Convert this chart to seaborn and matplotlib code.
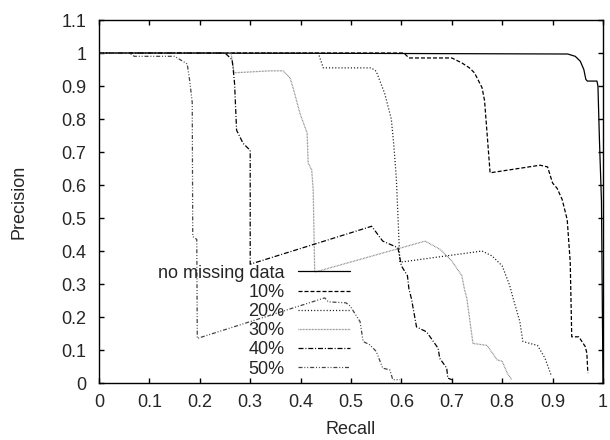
import matplotlib
matplotlib.use("Agg")
import matplotlib.pyplot as plt
import pandas as pd
import seaborn as sns
from matplotlib.ticker import FuncFormatter, MultipleLocator

# precision / recall curves
SERIES = ["no missing data", "10%", "20%", "30%", "40%", "50%"]

recall_0 = [0, 0.5, 0.93, 0.945, 0.955, 0.962, 0.966, 0.969, 0.988, 0.99, 0.993, 0.997, 1.0]
precision_0 = [1, 0.999, 0.997, 0.99, 0.975, 0.95, 0.92, 0.915, 0.915, 0.9, 0.735, 0.55, 0.0]

recall_10 = [0, 0.605, 0.615, 0.70, 0.72, 0.735, 0.745, 0.76, 0.765, 0.776, 0.875, 0.89,
             0.90, 0.909, 0.919, 0.929, 0.935, 0.938, 0.952, 0.965, 0.968, 0.97]
precision_10 = [1, 1, 0.985, 0.985, 0.97, 0.955, 0.94, 0.895, 0.856, 0.637, 0.66, 0.655,
                0.606, 0.59, 0.556, 0.495, 0.366, 0.14, 0.14, 0.11, 0.09, 0.03]

recall_20 = [0, 0.435, 0.445, 0.54, 0.55, 0.567, 0.58, 0.585, 0.59, 0.597, 0.76, 0.78,
             0.80, 0.815, 0.822, 0.835, 0.841, 0.855, 0.87, 0.885, 0.898]
precision_20 = [1, 1, 0.955, 0.955, 0.945, 0.877, 0.80, 0.72, 0.62, 0.366, 0.40, 0.385,
                0.355, 0.295, 0.255, 0.186, 0.126, 0.12, 0.114, 0.075, 0.02]

recall_30 = [0, 0.262, 0.268, 0.339, 0.365, 0.379, 0.385, 0.399, 0.413, 0.415, 0.422, 0.425,
             0.428, 0.647, 0.677, 0.70, 0.72, 0.725, 0.73, 0.742, 0.77, 0.79, 0.80, 0.81, 0.819]
precision_30 = [1, 1, 0.94, 0.946, 0.946, 0.925, 0.895, 0.816, 0.757, 0.667, 0.646, 0.586,
                0.336, 0.43, 0.405, 0.37, 0.325, 0.285, 0.255, 0.12, 0.114, 0.07, 0.066, 0.03, 0.01]

recall_40 = [0, 0.25, 0.264, 0.266, 0.269, 0.273, 0.286, 0.30, 0.30, 0.541, 0.563, 0.593,
             0.60, 0.612, 0.615, 0.62, 0.63, 0.65, 0.673, 0.676, 0.69, 0.692, 0.70]
precision_40 = [1, 1, 0.98, 0.955, 0.907, 0.766, 0.726, 0.705, 0.36, 0.475, 0.43, 0.41,
                0.355, 0.325, 0.285, 0.255, 0.17, 0.155, 0.105, 0.075, 0.045, 0.015, 0.01]

recall_50 = [0, 0.06, 0.07, 0.15, 0.175, 0.18, 0.185, 0.186, 0.194, 0.195, 0.448, 0.455,
             0.49, 0.498, 0.518, 0.524, 0.537, 0.55, 0.563, 0.577, 0.583, 0.597]
precision_50 = [1, 1, 0.99, 0.99, 0.967, 0.916, 0.85, 0.444, 0.435, 0.135, 0.258, 0.246,
                0.243, 0.234, 0.186, 0.126, 0.116, 0.096, 0.045, 0.04, 0.01, 0.01]

recalls = [recall_0, recall_10, recall_20, recall_30, recall_40, recall_50]
precisions = [precision_0, precision_10, precision_20, precision_30, precision_40, precision_50]

df = pd.concat(
    [pd.DataFrame({"Recall": r, "Precision": p, "series": s})
     for s, r, p in zip(SERIES, recalls, precisions)],
    ignore_index=True,
)

palette = {
    "no missing data": "black",
    "10%": "black",
    "20%": "#1a1a1a",
    "30%": "#7a7a7a",
    "40%": "black",
    "50%": "#444444",
}
dashes = {
    "no missing data": "",
    "10%": (3.2, 1.6),
    "20%": (0.9, 1.6),
    "30%": (0.6, 0.6),
    "40%": (4, 1.5, 0.8, 1.5),
    "50%": (3.2, 1.5, 0.8, 1.5, 0.8, 1.5),
}

sns.set_style("ticks")
plt.rcParams["font.family"] = ["Liberation Sans", "DejaVu Sans"]
FS = 13

fig = plt.figure(figsize=(6.1, 4.4), dpi=100)
ax = fig.add_axes([0.1623, 0.1295, 0.8262, 0.825])

sns.lineplot(data=df, x="Recall", y="Precision", hue="series", style="series",
             hue_order=SERIES, style_order=SERIES, palette=palette, dashes=dashes,
             sort=False, estimator=None, linewidth=0.9, ax=ax)

ax.set_xlim(0, 1)
ax.set_ylim(0, 1.1)
ax.xaxis.set_major_locator(MultipleLocator(0.1))
ax.yaxis.set_major_locator(MultipleLocator(0.1))
fmt = FuncFormatter(lambda v, _: f"{round(v, 2):g}")
ax.xaxis.set_major_formatter(fmt)
ax.yaxis.set_major_formatter(fmt)
ax.tick_params(direction="in", length=3.8, width=1, top=True, right=True,
               labelsize=FS, color="black")
ax.tick_params(axis="y", pad=9)
ax.tick_params(axis="x", pad=8)
for sp in ax.spines.values():
    sp.set_linewidth(1)
    sp.set_color("black")

ax.set_xlabel("Recall", fontsize=FS)
ax.set_ylabel("Precision", fontsize=FS)
ax.xaxis.set_label_coords(0.5, -0.106)
ax.yaxis.set_label_coords(-0.142, 0.5)

handles, labels = ax.get_legend_handles_labels()
ax.legend(handles, labels, loc="lower right", bbox_to_anchor=(0.498, 0.015),
          markerfirst=False, frameon=False, fontsize=FS, handlelength=2.9,
          handletextpad=0.72, labelspacing=0.12, borderpad=0, borderaxespad=0)

fig.savefig("out.png", dpi=100)
